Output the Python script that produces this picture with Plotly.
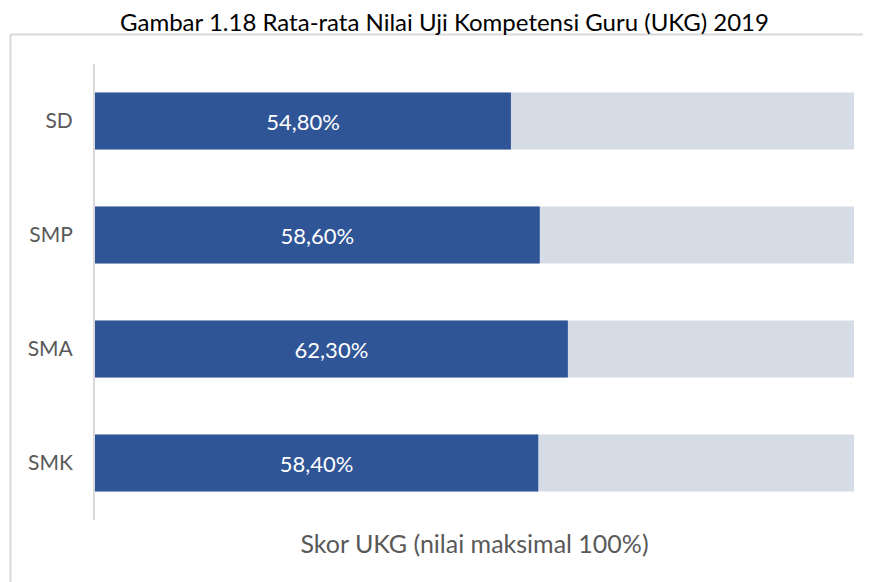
import plotly.graph_objects as go

categories = ["SD", "SMP", "SMA", "SMK"]
values = [54.8, 58.6, 62.3, 58.4]
max_values = [100, 100, 100, 100]
value_labels = ["54,80%", "58,60%", "62,30%", "58,40%"]
title_text = "Gambar 1.18 Rata-rata Nilai Uji Kompetensi Guru (UKG) 2019"
axis_title = "Skor UKG (nilai maksimal 100%)"

FONT = "Lato, Open Sans, sans-serif"

# page has an 8px body margin; figure sized/positioned to compensate
W, H = 863, 574
L, R, T, B = 87, 17, 56, 62
PW, PH = W - L - R, H - T - B

fig = go.Figure()
fig.add_trace(go.Bar(
    y=categories, x=max_values, orientation="h",
    marker=dict(color="#D6DCE5", line=dict(width=0)),
    width=0.5, hoverinfo="skip", showlegend=False,
))
fig.add_trace(go.Bar(
    y=categories, x=values, orientation="h",
    marker=dict(color="#2F5597", line=dict(width=0)),
    width=0.5, text=value_labels, textposition="inside",
    insidetextanchor="middle", textangle=0,
    textfont=dict(color="white", size=22, family=FONT),
    showlegend=False,
))

fig.update_layout(
    width=W, height=H,
    margin=dict(l=L, r=R, t=T, b=B),
    barmode="overlay",
    plot_bgcolor="white", paper_bgcolor="white",
    font=dict(family=FONT, color="#595959"),
    title=dict(text=title_text, x=436.5 / W, xref="container", xanchor="center",
               y=1 - 15 / H, yref="container", yanchor="middle",
               font=dict(size=24, color="#000000", family=FONT)),
    uniformtext=dict(mode=False),
)
fig.update_xaxes(range=[0, 100], showticklabels=False, showgrid=False,
                 zeroline=False, showline=False,
                 title=dict(text=axis_title, standoff=15,
                            font=dict(size=25, color="#595959", family=FONT)))
fig.update_yaxes(categoryorder="array", categoryarray=categories,
                 autorange="reversed", showgrid=False, zeroline=False,
                 showline=True, linecolor="#D9D9D9", linewidth=2,
                 ticks="", ticklabelstandoff=16,
                 tickfont=dict(size=21, color="#595959", family=FONT))

# chart border (left and top edges visible)
x_left = (2.5 - L) / PW
y_top = 1 + (T - 26.5) / PH
fig.add_shape(type="line", xref="paper", yref="paper",
              x0=x_left, x1=(W + 5 - L) / PW, y0=y_top, y1=y_top,
              line=dict(color="#D9D9D9", width=2))
fig.add_shape(type="line", xref="paper", yref="paper",
              x0=x_left, x1=x_left, y0=y_top, y1=-0.2,
              line=dict(color="#D9D9D9", width=2))

fig.write_html("out.html")
